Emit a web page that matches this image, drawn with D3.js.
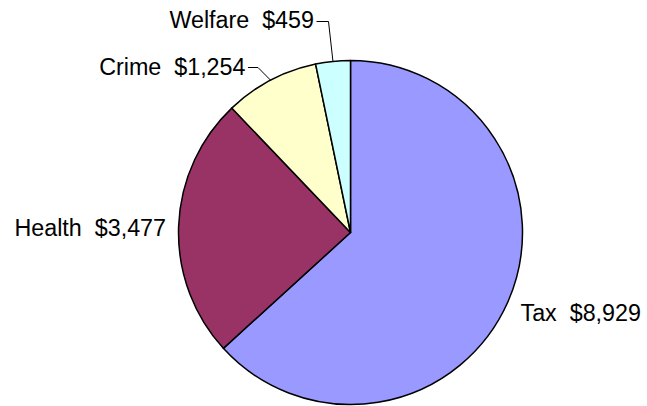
<!DOCTYPE html>
<html>
<head>
<meta charset="utf-8">
<script src="https://cdn.jsdelivr.net/npm/d3@7"></script>
<style>
  html, body { margin: 0; padding: 0; background: #fff; }
  svg { display: block; }
</style>
</head>
<body>
<svg id="chart" width="647" height="406"></svg>
<script>
const categories = ["Tax", "Health", "Crime", "Welfare"];
const values = [8929, 3477, 1254, 459];
const colors = ["#9999FF", "#993366", "#FFFFCC", "#CCFFFF"];

// label layout (not data): anchor, text point, optional leader elbow
const labelLayout = {
  Tax:     { anchor: "start", x: 520.5, y: 312.5 },
  Health:  { anchor: "end",   x: 166,   y: 227.5 },
  Crime:   { anchor: "end",   x: 245.5, y: 67, leader: true, elbow: [258, 67.5] },
  Welfare: { anchor: "end",   x: 314,   y: 19.5, leader: true, elbow: [328.5, 21.5] }
};

const svg = d3.select("#chart");
const cx = 350.5, cy = 232.5, R = 172;
const g = svg.append("g").attr("transform", `translate(${cx},${cy})`);

const data = categories.map((c, i) => ({ cat: c, value: values[i], color: colors[i] }));
const pie = d3.pie().value(d => d.value).sort(null);
const arcs = pie(data);
const arc = d3.arc().innerRadius(0).outerRadius(R);

g.selectAll("path.slice")
  .data(arcs)
  .enter().append("path")
  .attr("class", "slice")
  .attr("d", arc)
  .attr("fill", d => d.data.color)
  .attr("stroke", "#000")
  .attr("stroke-width", 1.5)
  .attr("stroke-linejoin", "round");

const fmt = d3.format("$,");

arcs.forEach(a => {
  const L = labelLayout[a.data.cat];
  if (L.leader) {
    const mid = (a.startAngle + a.endAngle) / 2;
    const px = cx + R * Math.sin(mid), py = cy - R * Math.cos(mid);
    svg.append("polyline")
      .attr("points", `${px},${py} ${L.elbow[0]},${L.elbow[1]} ${L.x + 2.5},${L.elbow[1]}`)
      .attr("fill", "none")
      .attr("stroke", "#000")
      .attr("stroke-width", 1);
  }
  svg.append("text")
    .attr("x", L.x)
    .attr("y", L.y)
    .attr("text-anchor", L.anchor)
    .attr("dominant-baseline", "central")
    .attr("font-family", "'Liberation Sans', Arial, sans-serif")
    .attr("font-size", "23.3px")
    .attr("fill", "#000")
    .text(`${a.data.cat}\u00A0\u00A0${fmt(a.data.value)}`);
});
</script>
</body>
</html>
